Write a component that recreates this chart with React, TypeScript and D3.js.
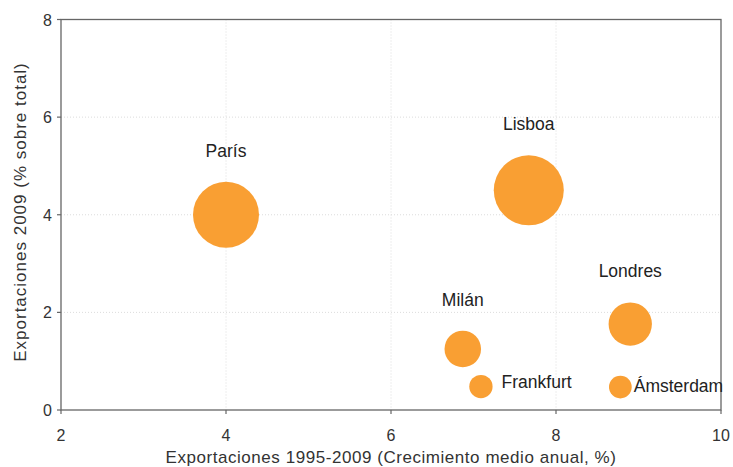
import React from 'react'
import * as d3 from 'd3'

// cities: growth 1995-2009 (x), share of exports 2009 (y), bubble size
const cities = ['París', 'Lisboa', 'Londres', 'Milán', 'Frankfurt', 'Ámsterdam']
const growth = [4.0, 7.67, 8.9, 6.87, 7.09, 8.78]
const share = [4.0, 4.5, 1.76, 1.25, 0.48, 0.47]
const size = [8.0, 9.0, 3.45, 2.45, 1.0, 0.95]
const labelSide = ['top', 'top', 'top', 'top', 'right', 'right']
const xTicks = [2, 4, 6, 8, 10]
const yTicks = [0, 2, 4, 6, 8]

const W = 733
const H = 467
const margin = { top: 19.5, right: 12, bottom: 57, left: 61 }
const font = '"Liberation Sans", Arial, Helvetica, sans-serif'

export default function App() {
  const x = d3.scaleLinear().domain([2, 10]).range([margin.left, W - margin.right])
  const y = d3.scaleLinear().domain([0, 8]).range([H - margin.bottom, margin.top])
  const r = d3.scaleSqrt().domain([0, d3.max(size)]).range([0, 35])
  const x0 = x.range()[0], x1 = x.range()[1]
  const y0 = y.range()[0], y1 = y.range()[1]

  return (
    <svg width={W} height={H} style={{ position: 'absolute', left: 0, top: 0, background: '#fff' }}>
      {/* grid */}
      <g stroke="#dcdcdc" strokeDasharray="1,2" strokeWidth={1}>
        {xTicks.slice(1, -1).map(t => (
          <line key={'gx' + t} x1={x(t)} x2={x(t)} y1={y1} y2={y0} />
        ))}
        {yTicks.slice(1, -1).map(t => (
          <line key={'gy' + t} x1={x0} x2={x1} y1={y(t)} y2={y(t)} />
        ))}
      </g>

      {/* frame */}
      <rect x={x0} y={y1} width={x1 - x0} height={y0 - y1} fill="none" stroke="#666" strokeWidth={1.3} />

      {/* ticks */}
      <g stroke="#666" strokeWidth={1.2}>
        {xTicks.map(t => <line key={'tx' + t} x1={x(t)} x2={x(t)} y1={y0} y2={y0 + 4} />)}
        {yTicks.map(t => <line key={'ty' + t} x1={x0 - 4} x2={x0} y1={y(t)} y2={y(t)} />)}
      </g>
      <g fontFamily={font} fontSize={16} fill="#333">
        {xTicks.map(t => (
          <text key={'lx' + t} x={x(t)} y={y0 + 31} textAnchor="middle">{t}</text>
        ))}
        {yTicks.map(t => (
          <text key={'ly' + t} x={x0 - 9} y={y(t) + 6} textAnchor="end">{t}</text>
        ))}
      </g>

      {/* axis titles */}
      <text x={(x0 + x1) / 2} y={H - 4} textAnchor="middle" fontFamily={font} fontSize={17} letterSpacing={0.55} fill="#333">
        Exportaciones 1995-2009 (Crecimiento medio anual, %)
      </text>
      <text transform={`translate(26,212) rotate(-90)`} textAnchor="middle" fontFamily={font} fontSize={17} letterSpacing={1.0} fill="#333">
        Exportaciones 2009 (% sobre total)
      </text>

      {/* bubbles */}
      {cities.map((c, i) => (
        <circle key={c} cx={x(growth[i])} cy={y(share[i])} r={r(size[i])} fill="#f99f33" />
      ))}

      {/* labels */}
      <g fontFamily={font} fontSize={17.5} fill="#222">
        {cities.map((c, i) => {
          const cx = x(growth[i]), cy = y(share[i]), rr = r(size[i])
          if (labelSide[i] === 'top')
            return <text key={'t' + c} x={cx} y={cy - rr - 25} textAnchor="middle">{c}</text>
          return <text key={'t' + c} x={cx + rr + (c === 'Frankfurt' ? 9 : 2)} y={cy + (c === 'Frankfurt' ? 1 : 5)}>{c}</text>
        })}
      </g>
    </svg>
  )
}
